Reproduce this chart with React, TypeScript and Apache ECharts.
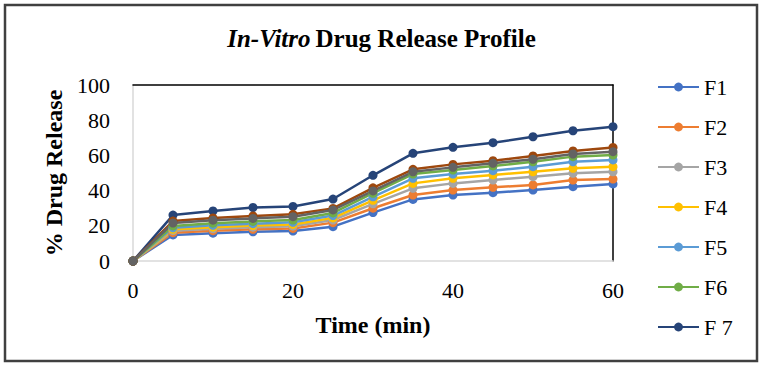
import React, { useEffect, useRef } from "react";
import * as echarts from "echarts";

const times = [0, 5, 10, 15, 20, 25, 30, 35, 40, 45, 50, 55, 60];
const seriesNames = ["F1", "F2", "F3", "F4", "F5", "F6", "F 7", "F8", "F9"];
const legendNames = ["F1", "F2", "F3", "F4", "F5", "F6", "F 7"];
const F1 = [0, 14.8, 15.8, 16.6, 17.0, 19.5, 27.5, 35.0, 37.5, 38.8, 40.3, 42.2, 43.8];
const F2 = [0, 16.1, 17.2, 18.0, 18.5, 21.8, 30.0, 37.5, 40.3, 41.9, 43.2, 46.0, 46.6];
const F3 = [0, 17.2, 18.3, 19.2, 19.8, 23.3, 32.5, 41.3, 44.1, 46.0, 47.9, 49.8, 50.7];
const F4 = [0, 18.0, 19.2, 20.1, 20.8, 24.5, 34.5, 44.1, 47.0, 48.9, 50.7, 52.7, 53.6];
const F5 = [0, 18.9, 20.3, 21.2, 22.0, 25.8, 36.5, 47.0, 49.4, 51.3, 53.6, 56.4, 57.4];
const F6 = [0, 19.9, 21.5, 22.5, 23.3, 27.3, 38.5, 49.4, 51.7, 54.0, 56.4, 59.3, 60.2];
const F7 = [0, 26.1, 28.4, 30.4, 31.0, 35.2, 48.7, 61.2, 64.6, 67.2, 70.6, 74.0, 76.3];
const F8 = [0, 22.7, 24.5, 25.6, 26.5, 29.9, 41.6, 52.1, 54.9, 57.0, 59.7, 62.5, 64.5];
const F9 = [0, 21.6, 23.2, 24.2, 25.2, 29.0, 39.8, 50.7, 53.2, 55.5, 57.8, 60.8, 62.1];
const seriesValues = [F1, F2, F3, F4, F5, F6, F7, F8, F9];
const colors = ["#4472C4", "#ED7D31", "#A5A5A5", "#FFC000", "#5B9BD5", "#70AD47", "#264478", "#9E480E", "#636363"];
const yTicks = [0, 20, 40, 60, 80, 100];
const xTicks = [0, 20, 40, 60];

const FONT = "'Liberation Serif', 'Times New Roman', serif";

export default function App() {
  const ref = useRef<HTMLDivElement>(null);
  useEffect(() => {
    const chart = echarts.init(ref.current!, null, { renderer: "svg" });
    const series = seriesValues.map((vals, i) => ({
      name: seriesNames[i],
      type: "line",
      data: vals.map((v, j) => [times[j], v]),
      symbol: "circle",
      symbolSize: 9,
      showSymbol: true,
      lineStyle: { width: 2.5, color: colors[i] },
      itemStyle: { color: colors[i] },
      xAxisIndex: 0,
      yAxisIndex: 0,
      z: 2,
    }));
    chart.setOption({
      animation: false,
      backgroundColor: "#ffffff",
      title: {
        text: "{i|In-Vitro} {b|Drug Release Profile}",
        left: "center",
        top: 21,
        textStyle: {
          rich: {
            i: { fontFamily: FONT, fontSize: 25, fontWeight: "bold", fontStyle: "italic", color: "#000" },
            b: { fontFamily: FONT, fontSize: 25, fontWeight: "bold", color: "#000" },
          },
        },
      },
      legend: {
        data: legendNames,
        orient: "vertical",
        left: 657,
        top: 76,
        padding: 0,
        itemWidth: 41,
        itemHeight: 11,
        itemGap: 18,
        textStyle: { fontFamily: FONT, fontSize: 22, color: "#000", lineHeight: 22 },
      },
      grid: { left: 133, right: 150, top: 85, bottom: 105 },
      xAxis: [
        {
          type: "value",
          min: 0,
          max: 60,
          interval: 20,
          name: "Time (min)",
          nameLocation: "middle",
          nameGap: 52,
          nameTextStyle: { fontFamily: FONT, fontSize: 24, fontWeight: "bold", color: "#000" },
          axisLine: { show: true, lineStyle: { color: "#d9d9d9", width: 1.5 } },
          axisTick: { show: false },
          splitLine: { show: false },
          axisLabel: {
            fontFamily: FONT,
            fontSize: 22,
            color: "#000",
            margin: 18,
            formatter: (v: number) => (xTicks.includes(v) ? String(v) : ""),
          },
        },
        {
          type: "value",
          position: "top",
          min: 0,
          max: 60,
          axisLine: { show: true, onZero: false, lineStyle: { color: "#000", width: 1.5 } },
          axisTick: { show: false },
          axisLabel: { show: false },
          splitLine: { show: false },
        },
      ],
      yAxis: [
        {
          type: "value",
          min: 0,
          max: 100,
          interval: 20,
          name: "% Drug Release",
          nameLocation: "middle",
          nameGap: 65,
          nameTextStyle: { fontFamily: FONT, fontSize: 24, fontWeight: "bold", color: "#000" },
          axisLine: { show: true, lineStyle: { color: "#d9d9d9", width: 1.5 } },
          axisTick: { show: false },
          splitLine: { show: false },
          axisLabel: {
            fontFamily: FONT,
            fontSize: 22,
            color: "#000",
            margin: 23,
            formatter: (v: number) => (yTicks.includes(v) ? String(v) : ""),
          },
        },
        {
          type: "value",
          position: "right",
          min: 0,
          max: 100,
          axisLine: { show: true, onZero: false, lineStyle: { color: "#000", width: 1.5 } },
          axisTick: { show: false },
          axisLabel: { show: false },
          splitLine: { show: false },
        },
      ],
      graphic: [
        {
          type: "rect",
          shape: { x: 5, y: 5, width: 752, height: 356 },
          style: { fill: "none", stroke: "#404040", lineWidth: 2.5 },
          silent: true,
        },
      ],
      series,
    });
    return () => chart.dispose();
  }, []);
  return <div ref={ref} style={{ position: "fixed", left: 0, top: 0, width: 763, height: 366 }} />;
}
